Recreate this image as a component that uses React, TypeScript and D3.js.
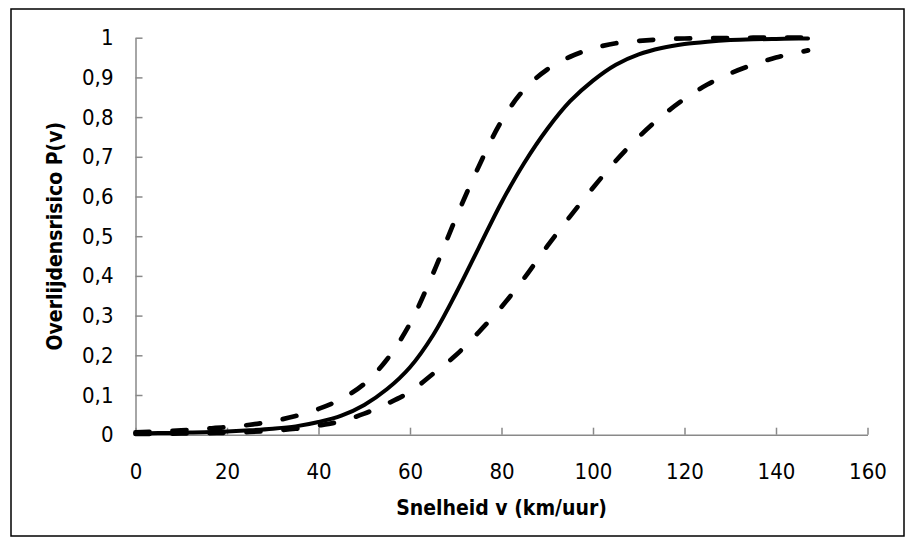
import React, { useEffect, useRef } from 'react';
import * as d3 from 'd3';

// speed (km/h) sampled along the curves
const speeds = [0, 5, 10, 15, 20, 25, 30, 35, 40, 45, 50, 55, 60, 65, 70, 75, 80, 85, 90, 95, 100, 105, 110, 115, 120, 125, 130, 135, 140, 145, 147];

// central estimate (solid)
const riskMid = [0.003, 0.004, 0.005, 0.006, 0.008, 0.011, 0.015, 0.021, 0.032, 0.048, 0.075, 0.115, 0.17, 0.25, 0.355, 0.47, 0.585, 0.685, 0.77, 0.84, 0.892, 0.932, 0.958, 0.974, 0.984, 0.99, 0.994, 0.996, 0.997, 0.998, 0.998];

// upper bound (dashed, left)
const riskHigh = [0.006, 0.008, 0.011, 0.015, 0.019, 0.025, 0.034, 0.047, 0.065, 0.09, 0.128, 0.19, 0.28, 0.405, 0.545, 0.675, 0.79, 0.87, 0.92, 0.952, 0.973, 0.986, 0.992, 0.996, 0.998, 0.999, 0.999, 1.0, 1.0, 1.0, 1.0];

// lower bound (dashed, right)
const riskLow = [0.002, 0.002, 0.003, 0.004, 0.005, 0.007, 0.01, 0.015, 0.023, 0.034, 0.053, 0.078, 0.108, 0.153, 0.2, 0.258, 0.322, 0.395, 0.475, 0.55, 0.622, 0.69, 0.75, 0.802, 0.846, 0.882, 0.91, 0.932, 0.95, 0.963, 0.968];

const xTicks = [0, 20, 40, 60, 80, 100, 120, 140, 160];
const yTicks = [0, 0.1, 0.2, 0.3, 0.4, 0.5, 0.6, 0.7, 0.8, 0.9, 1];

const xTitle = 'Snelheid v (km/uur)';
const yTitle = 'Overlijdensrisico P(v)';

// ====

const W = 915;
const H = 544;
const FONT = '"DejaVu Sans Condensed", "Liberation Sans Narrow", sans-serif';
const AXIS = '#898989';

function App() {
    const node = useRef<SVGSVGElement | null>(null);

    useEffect(() => {
        const svg = d3.select(node.current);
        svg.selectAll('*').remove();

        const x = d3.scaleLinear().domain([0, 160]).range([135.5, 867.5]);
        const y = d3.scaleLinear().domain([0, 1]).range([434.7, 37.7]);

        // chart border
        svg.append('rect')
            .attr('x', 11).attr('y', 9)
            .attr('width', 893).attr('height', 527)
            .attr('fill', '#fff')
            .attr('stroke', '#000')
            .attr('stroke-width', 1.5);

        const xAxis = svg.append('g')
            .attr('transform', `translate(0, ${y(0)})`)
            .call(d3.axisBottom(x).tickValues(xTicks).tickSizeInner(-7).tickSizeOuter(0).tickPadding(29));

        const yAxis = svg.append('g')
            .attr('transform', `translate(${x(0)}, 0)`)
            .call(d3.axisLeft(y).tickValues(yTicks).tickSizeInner(-7).tickSizeOuter(0).tickPadding(22)
                .tickFormat((d) => String(d).replace('.', ',')));

        [xAxis, yAxis].forEach((g) => {
            g.selectAll('path, line').attr('stroke', AXIS).attr('stroke-width', 1.5);
            g.selectAll('text')
                .attr('fill', '#000')
                .style('font-family', FONT)
                .style('font-size', '22px');
        });

        const line = d3.line<number>()
            .x((_, i) => x(speeds[i]))
            .y((d) => y(d))
            .curve(d3.curveCatmullRom);

        const series = [
            { values: riskHigh, dash: '14 23' },
            { values: riskLow, dash: '14 23' },
            { values: riskMid, dash: null }
        ];

        series.forEach((s) => {
            svg.append('path')
                .attr('d', line(s.values))
                .attr('fill', 'none')
                .attr('stroke', '#000')
                .attr('stroke-width', s.dash ? 4.7 : 4)
                .attr('stroke-linecap', 'round')
                .attr('stroke-dasharray', s.dash);
        });

        svg.append('text')
            .attr('x', (x(0) + x(160)) / 2)
            .attr('y', 515)
            .attr('text-anchor', 'middle')
            .style('font-family', FONT)
            .style('font-size', '21px')
            .style('font-weight', 'bold')
            .text(xTitle);

        svg.append('text')
            .attr('transform', `translate(62, ${(y(0) + y(1)) / 2}) rotate(-90)`)
            .attr('text-anchor', 'middle')
            .style('font-family', FONT)
            .style('font-size', '21px')
            .style('font-weight', 'bold')
            .text(yTitle);
    }, []);

    return (
        <svg
            ref={node}
            width={W}
            height={H}
            style={{ position: 'absolute', left: 0, top: 0, background: '#fff' }}>
        </svg>
    );
}

export default App;
